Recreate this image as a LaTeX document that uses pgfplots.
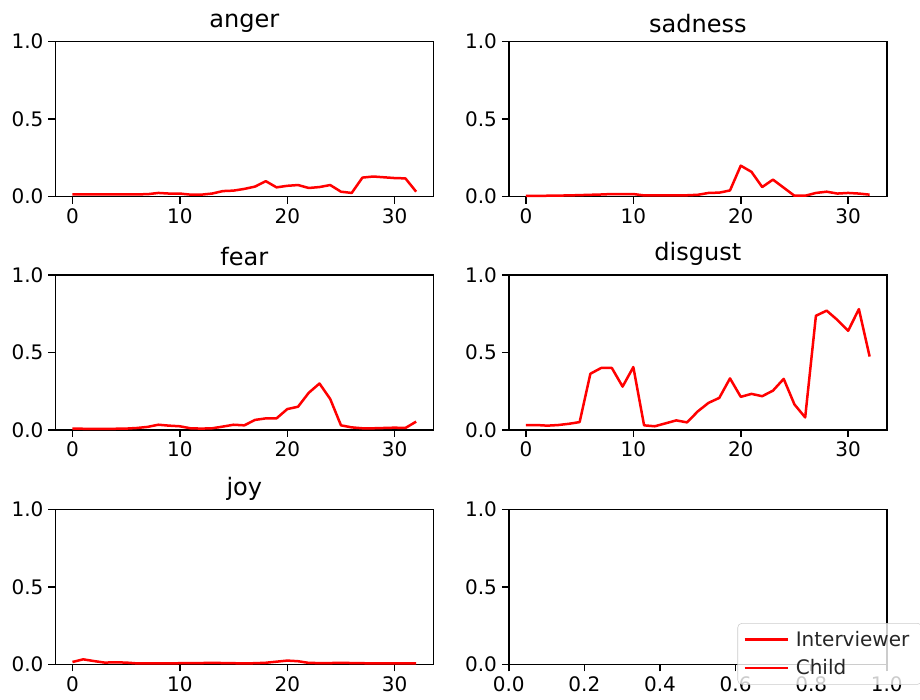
\documentclass[border=0pt]{standalone}
\usepackage{fontspec}
\setmainfont{DejaVu Sans}
\usepackage{pgfplots}
\pgfplotsset{compat=1.18}

% figure was 640x480 px, shown at 920x700: everything is about 1.44x
\pgfplotsset{
  panel/.style={
    scale only axis,
    width=272.2pt, height=111.6pt,
    anchor=south west,
    xmin=-1.6, xmax=33.6,
    ymin=0, ymax=1,
    xtick={0,10,20,30},
    ytick={0,0.5,1},
    yticklabel style={/pgf/number format/.cd, fixed, fixed zerofill, precision=1},
    /pgf/number format/assume math mode=true,
    tick align=outside,
    xtick pos=bottom, ytick pos=left,
    major tick length=5pt,
    every tick/.style={black, line width=1.1pt},
    axis line style={line width=1.1pt},
    ticklabel style={font=\fontsize{14.4}{17}\selectfont},
    title style={font=\fontsize{17.3}{20}\selectfont, yshift=-3pt},
    clip=false,
  },
  emo/.style={red, line width=1.8pt, line join=round, mark=none},
}

\begin{document}
\begin{tikzpicture}
\useasboundingbox (0,0) rectangle (662.4pt,504pt);

\begin{axis}[panel, at={(39.8pt,362.4pt)}, title={anger}]
\addplot[emo] coordinates {
(0,0.015) (1,0.015) (2,0.015) (3,0.014) (4,0.015) (5,0.015) (6,0.015) (7,0.016)
(8,0.024) (9,0.020) (10,0.020) (11,0.013) (12,0.013) (13,0.020) (14,0.036) (15,0.039)
(16,0.050) (17,0.065) (18,0.100) (19,0.060) (20,0.070) (21,0.075) (22,0.056) (23,0.062)
(24,0.075) (25,0.032) (26,0.024) (27,0.123) (28,0.130) (29,0.125) (30,0.120) (31,0.118) (32,0.032)};
\end{axis}

\begin{axis}[panel, at={(366.3pt,362.4pt)}, title={sadness}]
\addplot[emo] coordinates {
(0,0.005) (1,0.005) (2,0.006) (3,0.007) (4,0.008) (5,0.010) (6,0.012) (7,0.014)
(8,0.017) (9,0.017) (10,0.017) (11,0.008) (12,0.008) (13,0.008) (14,0.008) (15,0.009)
(16,0.012) (17,0.024) (18,0.026) (19,0.040) (20,0.200) (21,0.160) (22,0.062) (23,0.110)
(24,0.058) (25,0.006) (26,0.006) (27,0.024) (28,0.032) (29,0.020) (30,0.024) (31,0.020) (32,0.013)};
\end{axis}

\begin{axis}[panel, at={(39.8pt,194.4pt)}, title={fear}]
\addplot[emo] coordinates {
(0,0.009) (1,0.008) (2,0.008) (3,0.008) (4,0.008) (5,0.009) (6,0.013) (7,0.020)
(8,0.034) (9,0.028) (10,0.024) (11,0.011) (12,0.009) (13,0.011) (14,0.022) (15,0.034)
(16,0.030) (17,0.065) (18,0.075) (19,0.075) (20,0.135) (21,0.150) (22,0.240) (23,0.300)
(24,0.200) (25,0.030) (26,0.017) (27,0.011) (28,0.011) (29,0.013) (30,0.015) (31,0.013) (32,0.054)};
\end{axis}

\begin{axis}[panel, at={(366.3pt,194.4pt)}, title={disgust}]
\addplot[emo] coordinates {
(0,0.032) (1,0.032) (2,0.028) (3,0.032) (4,0.040) (5,0.051) (6,0.363) (7,0.400)
(8,0.400) (9,0.280) (10,0.406) (11,0.030) (12,0.024) (13,0.043) (14,0.062) (15,0.049)
(16,0.120) (17,0.175) (18,0.207) (19,0.333) (20,0.214) (21,0.233) (22,0.218) (23,0.254)
(24,0.330) (25,0.165) (26,0.081) (27,0.737) (28,0.770) (29,0.710) (30,0.640) (31,0.780) (32,0.474)};
\end{axis}

\begin{axis}[panel, at={(39.8pt,25.7pt)}, title={joy}]
\addplot[emo] coordinates {
(0,0.015) (1,0.032) (2,0.021) (3,0.011) (4,0.013) (5,0.011) (6,0.006) (7,0.006)
(8,0.006) (9,0.006) (10,0.007) (11,0.007) (12,0.008) (13,0.010) (14,0.008) (15,0.007)
(16,0.006) (17,0.007) (18,0.010) (19,0.017) (20,0.024) (21,0.020) (22,0.009) (23,0.008)
(24,0.008) (25,0.010) (26,0.008) (27,0.007) (28,0.006) (29,0.006) (30,0.006) (31,0.006) (32,0.006)};
\end{axis}

\begin{axis}[panel, at={(366.3pt,25.7pt)},
  xmin=0, xmax=1, xtick={0,0.2,0.4,0.6,0.8,1},
  xticklabel style={/pgf/number format/.cd, fixed, fixed zerofill, precision=1},
  legend style={at={(0.605,0.266)}, anchor=north west,
    font=\fontsize{14.4}{17}\selectfont, draw=black!20, rounded corners=3pt,
    fill=white, fill opacity=0.8, text opacity=1, text=black!85,
    row sep=4pt, inner xsep=4pt, inner ysep=3.5pt,
    nodes={inner xsep=5pt}},
  legend cell align=left,
  legend image code/.code={\draw[#1, line width=1.8pt] (0pt,0pt) -- (31pt,0pt);},
]
\addlegendimage{emo}
\addlegendentry{Interviewer}
\addlegendimage{emo}
\addlegendentry{Child}
\end{axis}
\end{tikzpicture}
\end{document}
